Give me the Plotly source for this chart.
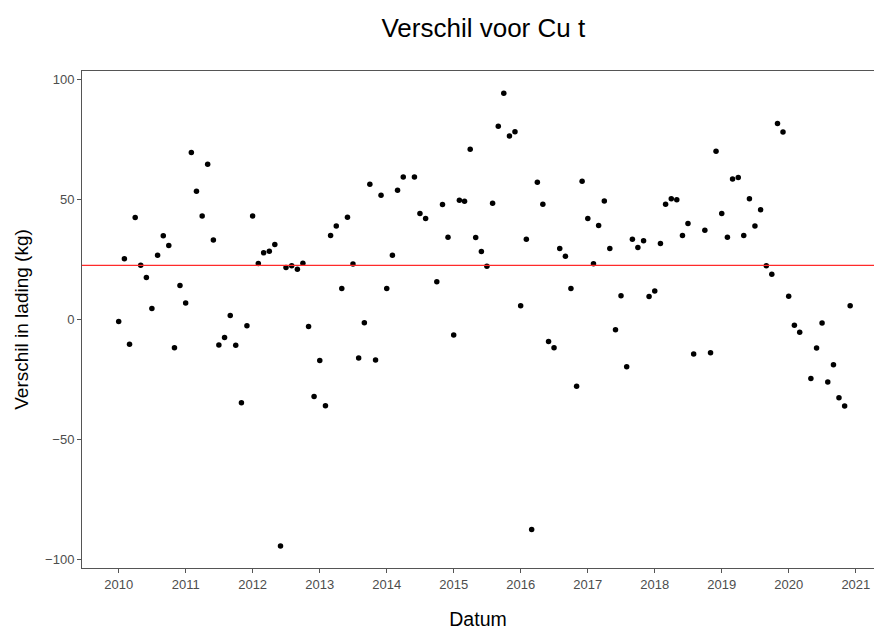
import numpy as np
import pandas as pd
import plotly.graph_objects as go

# Monthly values (None = month without data)
values_2010 = [-0.8, 25.3, -10.3, 42.5, 22.6, 17.5, 4.6, 26.8, 34.9, 30.8, -11.8, 14.2]
values_2011 = [6.9, 69.6, 53.5, 43.2, 64.7, 33.1, -10.6, -7.5, 1.7, -10.7, -34.7, -2.6]
values_2012 = [43.2, 23.3, 27.8, 28.5, 31.3, -94.4, 21.7, 22.4, 21.0, 23.5, -2.9, -32.1]
values_2013 = [-17.1, -36.0, 35.0, 39.0, 12.9, 42.6, 23.1, -16.0, -1.4, 56.4, -16.9, 51.8]
values_2014 = [12.9, 26.8, 53.9, 59.4, None, 59.4, 44.2, 42.1, None, 15.7, 47.9, 34.3]
values_2015 = [-6.5, 49.7, 49.3, 71.0, 34.2, 28.3, 22.2, 48.5, 80.6, 94.3, 76.5, 78.3]
values_2016 = [5.7, 33.5, -87.6, 57.2, 48.1, -9.2, -11.8, 29.6, 26.4, 12.9, -27.8, 57.6]
values_2017 = [42.1, 23.2, 39.2, 49.4, 29.6, -4.3, 9.9, -19.7, 33.5, 30.0, 32.8, 9.6]
values_2018 = [11.9, 31.7, 48.1, 50.3, 49.9, 35.0, 40.0, -14.4, None, 37.2, -13.9, 70.1]
values_2019 = [44.2, 34.3, 58.6, 59.2, 35.0, 50.3, 39.0, 45.8, 22.4, 18.9, 81.7, 78.2]
values_2020 = [9.7, -2.4, -5.3, None, -24.6, -11.9, -1.5, -26.1, -18.9, -32.6, -36.1, 5.7]

year_ticks = [f"{y}-01-01" for y in range(2010, 2022)]
year_tick_labels = [str(y) for y in range(2010, 2022)]
y_ticks = [-100, -50, 0, 50, 100]

all_values = (values_2010 + values_2011 + values_2012 + values_2013 + values_2014 +
              values_2015 + values_2016 + values_2017 + values_2018 + values_2019 + values_2020)
all_dates = pd.date_range("2010-01-01", periods=len(all_values), freq="MS")
df = pd.DataFrame({"datum": all_dates, "verschil": all_values}).dropna()
mean_value = float(np.mean(df["verschil"]))

fig = go.Figure()
fig.add_trace(go.Scatter(
    x=df["datum"], y=df["verschil"], mode="markers",
    marker=dict(color="black", size=5.5), showlegend=False,
))
fig.add_hline(y=mean_value, line=dict(color="#ff2a2a", width=1.3))

axis_common = dict(
    showgrid=False, zeroline=False, showline=True, linecolor="#555555", linewidth=1,
    mirror=True, ticks="outside", ticklen=4, tickcolor="#555555",
    tickfont=dict(size=13, color="#4d4d4d"),
)
fig.update_layout(
    width=874, height=630,
    margin=dict(l=82, r=0, t=71, b=62),
    paper_bgcolor="white", plot_bgcolor="white",
    font=dict(family="Liberation Sans, Arial, sans-serif", color="black"),
    title=dict(text="Verschil voor Cu t", x=0.553, xanchor="center", y=0.955, yanchor="middle",
               font=dict(size=26, color="black")),
    xaxis=dict(**axis_common, range=["2009-06-15", "2021-04-10"],
               tickvals=year_ticks, ticktext=year_tick_labels,
               title=dict(text="Datum", font=dict(size=19.5), standoff=22)),
    yaxis=dict(**axis_common, range=[-103.6, 103.6], tickvals=y_ticks,
               title=dict(text="Verschil in lading (kg)", font=dict(size=19), standoff=11)),
)

fig.write_html("out.html", config={"displayModeBar": False},
               post_script="document.body.style.margin='0';")
